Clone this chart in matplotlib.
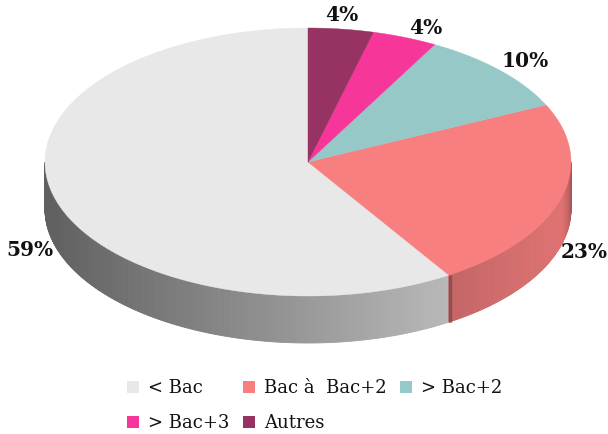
import numpy as np
import matplotlib
matplotlib.use("Agg")
import matplotlib.pyplot as plt
from matplotlib.patches import Polygon, Rectangle

# Education levels and their shares (%)
categories = ["< Bac", "Bac à  Bac+2", "> Bac+2", "> Bac+3", "Autres"]
shares = [59, 23, 10, 4, 4]
colors = ["#e8e8e8", "#f77f7f", "#96c8c8", "#f7369a", "#973362"]
pct_labels = ["59%", "23%", "10%", "4%", "4%"]

W, H = 608, 435
fig = plt.figure(figsize=(W / 100, H / 100), dpi=100)
ax = fig.add_axes([0, 0, 1, 1])
ax.set_xlim(0, W)
ax.set_ylim(H, 0)
ax.axis("off")

# Pie geometry (tilted disc)
cx, cy = 308, 163
rx, ry = 263, 134
depth = 47


def rim(theta_deg, dz=0.0):
    t = np.radians(theta_deg)
    return cx + rx * np.cos(t), cy - ry * np.sin(t) + dz


def shade(hex_color, f):
    rgb = np.array(matplotlib.colors.to_rgb(hex_color))
    return tuple(np.clip(rgb * f, 0, 1))


# slice angle ranges, counter-clockwise from 12 o'clock
total = sum(shares)
starts, ends = [], []
a = 90.0
for v in shares:
    starts.append(a)
    a += 360.0 * v / total
    ends.append(a)

# front wall with shading along the rim
for s, e, col in zip(starts, ends, colors):
    for off in (0, 360, -360):
        lo, hi = max(s + off, 180), min(e + off, 360)
        if hi <= lo:
            continue
        steps = np.linspace(lo, hi, max(int((hi - lo) * 2), 2))
        for t0, t1 in zip(steps[:-1], steps[1:]):
            tm = 0.5 * (t0 + t1)
            f = 0.41 + 0.5 * (1 - np.cos(np.radians(tm - 180))) / 2
            if tm > 345:
                f *= 1 - 0.25 * (tm - 345) / 15
            c = shade(col, f)
            x0, y0 = rim(t0)
            x1, y1 = rim(t1)
            quad = [(x0, y0), (x1, y1), (x1, y1 + depth), (x0, y0 + depth)]
            ax.add_patch(Polygon(quad, closed=True, facecolor=c, edgecolor=c,
                                 linewidth=0.6, antialiased=True))
        # darker seam where a new slice begins on the wall
        if lo > 180 and lo == s + off:
            xs, ys = rim(lo)
            ax.plot([xs + 1.5, xs + 1.5], [ys, ys + depth],
                    color=shade(col, 0.6), lw=2.5, solid_capstyle="butt")

# top faces
for s, e, col in zip(starts, ends, colors):
    ts = np.linspace(s, e, max(int(e - s) * 2, 4))
    pts = [(cx, cy)] + [rim(t) for t in ts]
    ax.add_patch(Polygon(pts, closed=True, facecolor=col, edgecolor=col,
                         linewidth=0.3))

# percentage labels
label_pos = [(30, 250), (584, 252), (525, 61), (426, 28), (342, 15)]
for (x, y), txt in zip(label_pos, pct_labels):
    ax.text(x, y, txt, ha="center", va="center", fontsize=14.5,
            fontweight="bold", family="DejaVu Serif", color="#111111")

# legend laid out in two rows under the pie
legend_slots = [(127, 388), (243, 388), (400, 388), (127, 423), (243, 423)]
sq = 12
for (x, y), name, col in zip(legend_slots, categories, colors):
    ax.add_patch(Rectangle((x, y - sq / 2), sq, sq, facecolor=col,
                           edgecolor="none"))
    ax.text(x + sq + 9, y, name, ha="left", va="center", fontsize=13,
            family="DejaVu Serif", color="#111111")

fig.savefig("out.png", dpi=100)
